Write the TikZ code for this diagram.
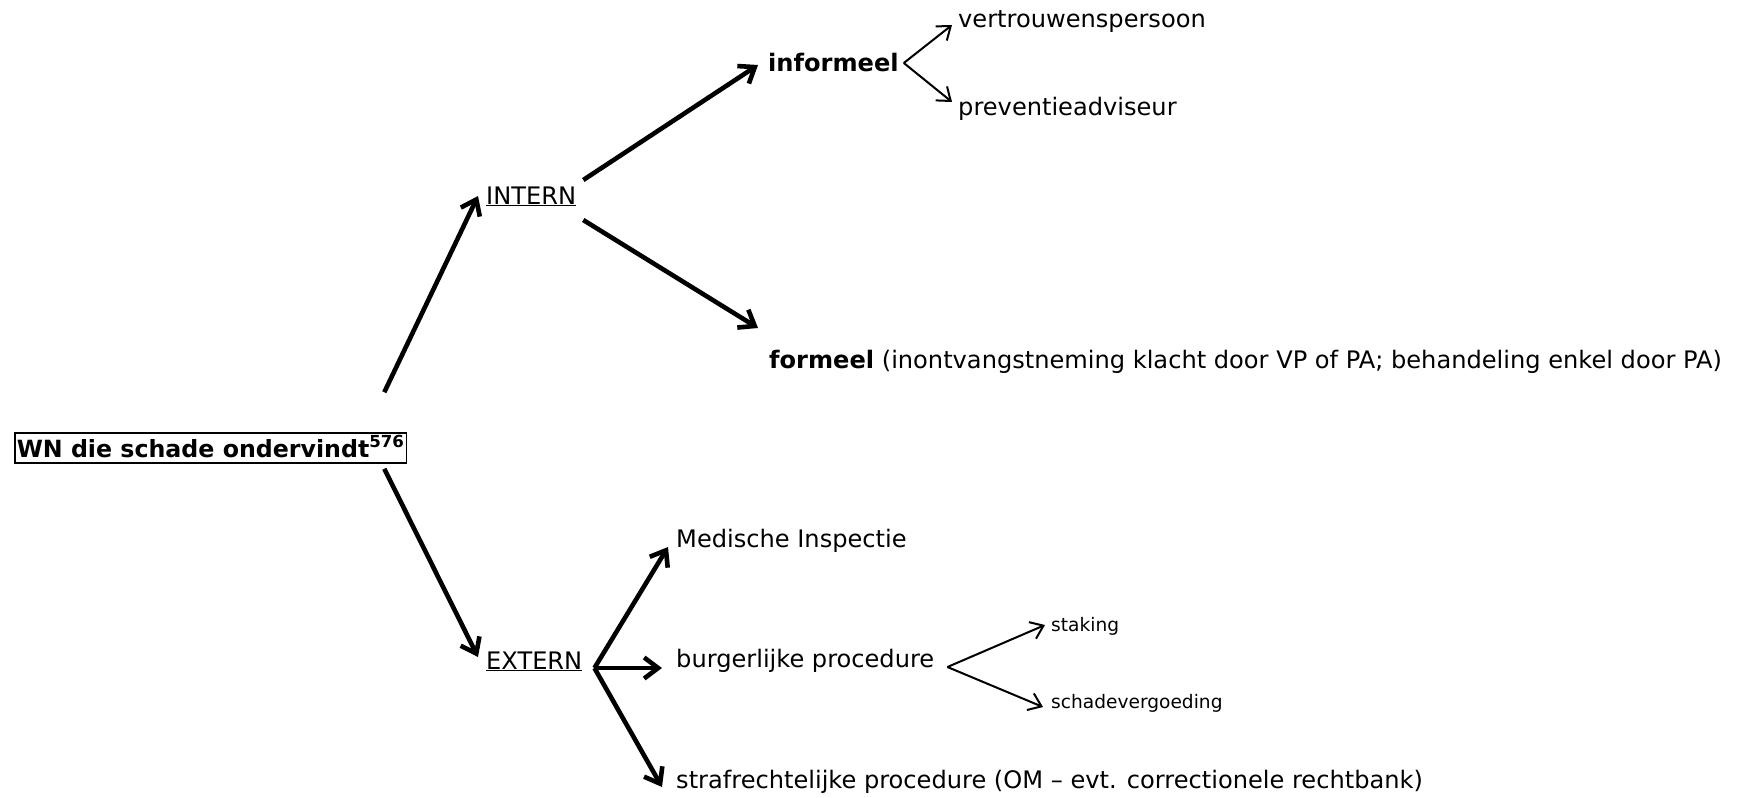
\documentclass[tikz,border=0pt]{standalone}
\usepackage{fontspec}
\setmainfont{DejaVu Sans}
\usetikzlibrary{arrows.meta}
\newcommand{\ulword}[1]{\underline{#1}}
\begin{document}
\begin{tikzpicture}[x=1pt,y=1pt,
  lbl/.style={inner sep=0pt, anchor=base west, font=\fontsize{24.1}{28}\selectfont},
  sml/.style={inner sep=0pt, anchor=base west, font=\fontsize{18.6}{22}\selectfont},
  thickarr/.style={line width=4.6pt, -{Straight Barb[length=14pt,width=21pt]}},
  thinarr/.style={line width=2pt, -{Straight Barb[length=12pt,width=18pt]}}]
\useasboundingbox (0,0) rectangle (1738,-798);
\node[draw, line width=1.6pt, inner xsep=2pt, inner ysep=0pt, text height=24pt, text depth=6pt,
  anchor=base west, font=\fontsize{23.7}{28}\selectfont\bfseries] (wn) at (14,-457)
  {WN die schade ondervindt\textsuperscript{576}};
\node[lbl] (intern) at (486,-204) {\ulword{INTERN}};
\node[lbl] (extern) at (486,-669) {\ulword{EXTERN}};
\node[lbl, font=\fontsize{24.1}{28}\selectfont\bfseries] (informeel) at (768,-71) {informeel};
\node[lbl] (vp) at (958,-27) {vertrouwenspersoon};
\node[lbl] (pa) at (958,-115) {preventieadviseur};
\node[lbl] (formeel) at (769,-368) {\textbf{formeel} (inontvangstneming klacht door VP of PA; behandeling enkel door PA)};
\node[lbl] (mi) at (676,-547) {Medische Inspectie};
\node[lbl] (bp) at (676,-667) {burgerlijke procedure};
\node[lbl] (straf) at (676,-788) {strafrechtelijke procedure (OM – evt. correctionele rechtbank)};
\node[sml] (staking) at (1051,-631) {staking};
\node[sml] (schade) at (1051,-708) {schadevergoeding};

\draw[thickarr] ([xshift=-23pt,yshift=40pt]wn.north east) -- ([xshift=-8pt,yshift=8pt]intern.base west);
\draw[thickarr] ([xshift=-23pt,yshift=-5pt]wn.south east) -- ([xshift=-8pt,yshift=12pt]extern.base west);
\draw[thickarr] ([xshift=7pt,yshift=24pt]intern.base east) -- ([xshift=-10pt,yshift=6pt]informeel.base west);
\draw[thickarr] ([xshift=7pt,yshift=-16pt]intern.base east) -- ([xshift=-11pt,yshift=40pt]formeel.base west);
\draw[thinarr] ([xshift=5pt,yshift=8pt]informeel.base east) -- ([xshift=-6pt,yshift=2pt]vp.base west);
\draw[thinarr] ([xshift=5pt,yshift=8pt]informeel.base east) -- ([xshift=-6pt,yshift=13pt]pa.base west);
\draw[thickarr] ([xshift=12pt,yshift=1pt]extern.base east) -- ([xshift=-8pt]mi.base west);
\draw[thickarr] ([xshift=12pt,yshift=1pt]extern.base east) -- ([xshift=-14pt,yshift=-1pt]bp.base west);
\draw[thickarr] ([xshift=12pt,yshift=1pt]extern.base east) -- ([xshift=-14pt,yshift=1pt]straf.base west);
\draw[thinarr] ([xshift=13pt]bp.base east) -- ([xshift=-6pt,yshift=6pt]staking.base west);
\draw[thinarr] ([xshift=13pt]bp.base east) -- ([xshift=-8pt,yshift=1pt]schade.base west);
\end{tikzpicture}
\end{document}
